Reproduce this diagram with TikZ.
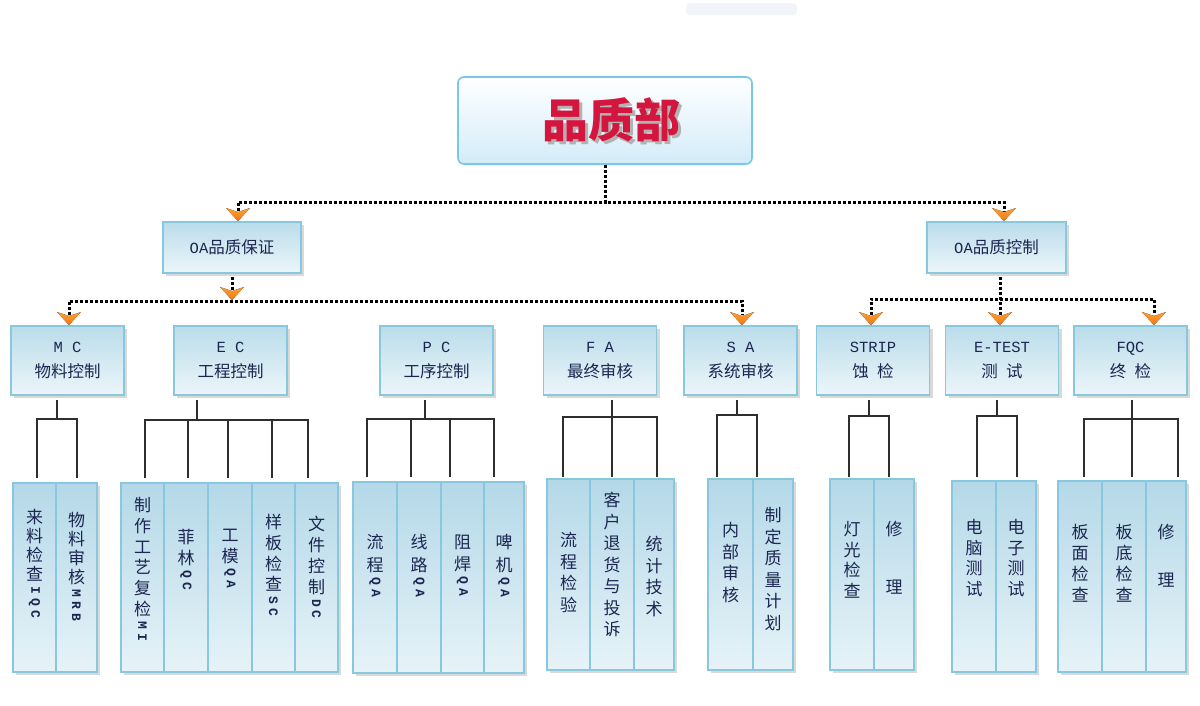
\documentclass[tikz,border=0pt]{standalone}
\usepackage{fontspec}
\usepackage{graphicx}
\newfontfamily\cjk{Noto Sans CJK SC}
\newfontfamily\mono{Liberation Mono}
\usetikzlibrary{shadows}
\definecolor{bordc}{HTML}{88C8DE}
\definecolor{topc}{HTML}{BADCEA}
\definecolor{botc}{HTML}{ECF6FA}
\definecolor{leaftop}{HTML}{B4D8E8}
\definecolor{leafbot}{HTML}{E6F3F8}
\definecolor{txtc}{HTML}{1C2650}
\definecolor{titc}{HTML}{D4163F}
\definecolor{orA}{HTML}{FBA23A}
\definecolor{orB}{HTML}{F27411}
\definecolor{treec}{HTML}{2E2E2E}
\definecolor{topbord}{HTML}{78C8E8}
\definecolor{topfillb}{HTML}{D3ECF8}
\definecolor{ghostc}{HTML}{F1F5F9}
\newcommand\latA{\mono\fontsize{15.5}{25}\selectfont}
\newcommand\ls{\hspace{4pt}}
\newcommand\rl[2]{\raisebox{\dimexpr#1pt-6pt\relax}{\rotatebox{-90}{\mono\bfseries\fontsize{13}{13}\selectfont #2}}}
\newcommand\leafnode[5]{\node[leafbox, minimum width={(#3-#2)*1pt}, minimum height={(#5-#4)*1pt}] (#1) at ({(#2+#3)/2},{(#4+#5)/2}) {};}
\newcommand\leaftext[4]{\node[leaftxt, font=\cjk\fontsize{17}{#3}\selectfont] (#1-t) at ([yshift=-#2pt]#1.north) {#4};}
\newcommand\chev[1]{\fill[top color=orA, bottom color=orB] (#1) ++(-12,0) -- ++(12,4) -- ++(12,-4) -- ++(-12,13) -- cycle;}
\newcommand\brk[3]{\coordinate (#1-j) at ([xshift=#2pt, yshift=-#3pt]#1.south);
  \draw[tree] ([xshift=#2pt, yshift=-4pt]#1.south) -- (#1-j);}
\begin{document}
\begin{tikzpicture}[x=1pt,y=-1pt,
  shd/.style={drop shadow={shadow xshift=3pt, shadow yshift=-3pt, fill=black!15, opacity=1}},
  topbox/.style={draw=topbord, line width=1.6pt, rounded corners=6pt, top color=white, middle color=white, bottom color=topfillb, minimum width=294pt, minimum height=87pt, inner sep=0},
  lvbox/.style={shd, draw=bordc, line width=1.6pt, top color=topc, bottom color=botc, inner sep=0, text=txtc, align=center, font=\cjk\fontsize{16.5}{25}\selectfont},
  l3/.style={lvbox, minimum width=113pt, minimum height=69pt},
  leafbox/.style={shd, draw=bordc, line width=1.4pt, top color=leaftop, bottom color=leafbot, inner sep=0},
  leaftxt/.style={anchor=north, inner sep=0, align=center, text=txtc},
  dotc/.style={line width=3pt, dash pattern=on 3pt off 2pt, black},
  tree/.style={line width=1.8pt, treec},
  ghost/.style={fill=ghostc, rounded corners=4pt, minimum width=111pt, minimum height=12pt, inner sep=0}
]
\useasboundingbox (0,0) rectangle (1200,705);
\fill[white] (0,0) rectangle (1200,705);
\node[ghost] (ghost) at (741.5,9) {};

% top
\node[topbox] (top) at (605,120.5) {};
\node[inner sep=0, font=\cjk\bfseries\fontsize{46}{50}\selectfont] (tit) at (611,121) {\rlap{\kern3pt\raisebox{-3pt}{\color{black!30}品质部}}\color{titc}品质部};

% level 2
\node[lvbox, minimum width=138pt, minimum height=51pt] (oa1) at (232,247.5) {{\latA OA}品质保证};
\node[lvbox, minimum width=139pt, minimum height=51pt] (oa2) at (996.5,247.5) {{\latA OA}品质控制};

% level 3
\node[l3] (mc) at (67.5,360.5) {{\latA M C}\\物料控制};
\node[l3] (ec) at (230.5,360.5) {{\latA E C}\\工程控制};
\node[l3] (pc) at (436.5,360.5) {{\latA P C}\\工序控制};
\node[l3] (fa) at (600,360.5) {{\latA F A}\\最终审核};
\node[l3] (sa) at (740.5,360.5) {{\latA S A}\\系统审核};
\node[l3] (strip) at (873,360.5) {{\latA STRIP}\\蚀\hspace{0.5em}检};
\node[l3] (etest) at (1002,360.5) {{\latA E-TEST}\\测\hspace{0.5em}试};
\node[l3] (fqc) at (1130.5,360.5) {{\latA FQC}\\终\hspace{0.5em}检};

% dotted connectors
\coordinate (j1L) at (238,202);
\coordinate (j1R) at (1004,202);
\coordinate (a1) at (238,208);
\coordinate (a2) at (1004,208);
\draw[dotc] (top.south) |- (j1L) -- ([yshift=-3pt]a1);
\draw[dotc] (top.south) |- (j1R) -- ([yshift=-3pt]a2);
\coordinate (a3) at (232,287);
\coordinate (a4) at (69,312);
\coordinate (a5) at (742,312);
\coordinate (j2) at (232,301);
\draw[dotc] ([yshift=-3pt]oa1.south) -- ([yshift=-3pt]a3);
\draw[dotc] ([yshift=-3pt]a4) |- (j2) -| ([yshift=-3pt]a5);
\coordinate (a6) at (871,312);
\coordinate (a7) at (1000,312);
\coordinate (a8) at (1154,312);
\coordinate (j3) at (1000,299);
\draw[dotc] ([xshift=3.5pt,yshift=-3pt]oa2.south) -- ([yshift=-3pt]a7);
\draw[dotc] ([yshift=-3pt]a6) |- (j3) -| ([yshift=-3pt]a8);
\chev{a1}\chev{a2}\chev{a3}\chev{a4}\chev{a5}\chev{a6}\chev{a7}\chev{a8}

% leaves
\leafnode{mc1}{13}{56}{483}{672}\leafnode{mc2}{56}{97}{483}{672}
\leafnode{ec1}{121}{164}{483}{672}\leafnode{ec2}{164}{208}{483}{672}\leafnode{ec3}{208}{252}{483}{672}\leafnode{ec4}{252}{295}{483}{672}\leafnode{ec5}{295}{338}{483}{672}
\leafnode{pc1}{353}{397}{482}{673}\leafnode{pc2}{397}{441}{482}{673}\leafnode{pc3}{441}{484}{482}{673}\leafnode{pc4}{484}{524}{482}{673}
\leafnode{fa1}{547}{590}{479}{670}\leafnode{fa2}{590}{634}{479}{670}\leafnode{fa3}{634}{674}{479}{670}
\leafnode{sa1}{708}{753}{479}{670}\leafnode{sa2}{753}{793}{479}{670}
\leafnode{st1}{830}{874}{479}{670}\leafnode{st2}{874}{914}{479}{670}
\leafnode{et1}{952}{996}{481}{672}\leafnode{et2}{996}{1036}{481}{672}
\leafnode{fq1}{1058}{1102}{481}{672}\leafnode{fq2}{1102}{1146}{481}{672}\leafnode{fq3}{1146}{1186}{481}{672}

\leaftext{mc1}{27}{19}{来\\料\\检\\查\\\rl{19}{I\ls Q\ls C}}
\leaftext{mc2}{30}{19}{物\\料\\审\\核\\\rl{19}{M\ls R\ls B}}
\leaftext{ec1}{15}{20.7}{制\\作\\工\\艺\\复\\检\\\rl{20.7}{M\ls I}}
\leaftext{ec2}{47}{20.7}{菲\\林\\\rl{20.7}{Q\ls C}}
\leaftext{ec3}{47}{20.7}{工\\模\\\rl{20.7}{Q\ls A}}
\leaftext{ec4}{32}{20.7}{样\\板\\检\\查\\\rl{20.7}{S\ls C}}
\leaftext{ec5}{34}{20.7}{文\\件\\控\\制\\\rl{20.7}{D\ls C}}
\leaftext{pc1}{53}{22.5}{流\\程\\\rl{22.5}{Q\ls A}}
\leaftext{pc2}{53}{22.5}{线\\路\\\rl{22.5}{Q\ls A}}
\leaftext{pc3}{53}{22.5}{阻\\焊\\\rl{22.5}{Q\ls A}}
\leaftext{pc4}{53}{22.5}{啤\\机\\\rl{22.5}{Q\ls A}}
\leaftext{fa1}{54}{21.5}{流\\程\\检\\验}
\leaftext{fa2}{14}{21.5}{客\\户\\退\\货\\与\\投\\诉}
\leaftext{fa3}{58}{21.5}{统\\计\\技\\术}
\leaftext{sa1}{44}{21.5}{内\\部\\审\\核}
\leaftext{sa2}{29}{21.5}{制\\定\\质\\量\\计\\划}
\leaftext{st1}{43}{20.5}{灯\\光\\检\\查}
\leaftext{st2}{43}{20.5}{修\\[37.5pt]理}
\leaftext{et1}{39}{20.5}{电\\脑\\测\\试}
\leaftext{et2}{39}{20.5}{电\\子\\测\\试}
\leaftext{fq1}{44}{21}{板\\面\\检\\查}
\leaftext{fq2}{44}{21}{板\\底\\检\\查}
\leaftext{fq3}{44}{21}{修\\[27pt]理}

% brackets
\brk{mc}{-10.5}{23}
\foreach \l/\d in {mc1/2.5, mc2/0.5} \draw[tree] (mc-j) -| ([xshift=\d pt, yshift=4pt]\l.north);
\brk{ec}{-33.5}{24}
\foreach \l/\d in {ec1/2.5, ec2/2, ec3/-2, ec4/-1.5, ec5/-8.5} \draw[tree] (ec-j) -| ([xshift=\d pt, yshift=4pt]\l.north);
\brk{pc}{-11.5}{23}
\foreach \l/\d in {pc1/-8, pc2/-8, pc3/-12.5, pc4/-10} \draw[tree] (pc-j) -| ([xshift=\d pt, yshift=4pt]\l.north);
\brk{fa}{12}{21}
\foreach \l/\d in {fa1/-5.5, fa2/0, fa3/3} \draw[tree] (fa-j) -| ([xshift=\d pt, yshift=1.5pt]\l.north);
\brk{sa}{-3.5}{19}
\foreach \l/\d in {sa1/-13.5, sa2/-16} \draw[tree] (sa-j) -| ([xshift=\d pt, yshift=1.5pt]\l.north);
\brk{strip}{-4}{20}
\foreach \l/\d in {st1/-3, st2/-5} \draw[tree] (strip-j) -| ([xshift=\d pt, yshift=1.5pt]\l.north);
\brk{etest}{-5}{20}
\foreach \l/\d in {et1/3, et2/1} \draw[tree] (etest-j) -| ([xshift=\d pt, yshift=3pt]\l.north);
\brk{fqc}{1.5}{23}
\foreach \l/\d in {fq1/4, fq2/8, fq3/12} \draw[tree] (fqc-j) -| ([xshift=\d pt, yshift=3pt]\l.north);
\end{tikzpicture}
\end{document}
